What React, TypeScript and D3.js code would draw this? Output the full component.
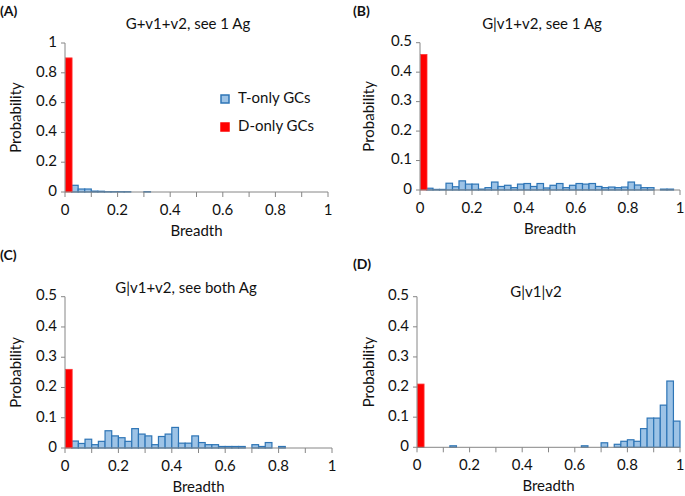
import * as d3 from "d3";

// bin width 0.025, 40 bins over breadth 0..1; first bin holds the D-only bar
const binWidth = 0.025;

const panelLabels = ["(A)", "(B)", "(C)", "(D)"];
const panelTitles = [
  "G+v1+v2, see 1 Ag",
  "G|v1+v2, see 1 Ag",
  "G|v1+v2, see both Ag",
  "G|v1|v2",
];

const dOnly = [0.9, 0.46, 0.26, 0.21];

const tOnlyA = [
  0, 0.045, 0.02, 0.02, 0.006, 0.005, 0.002, 0.002, 0.002, 0.002,
  0, 0, 0.002, 0, 0, 0, 0, 0, 0, 0,
  0, 0, 0, 0, 0, 0, 0, 0, 0, 0,
  0, 0, 0, 0, 0, 0, 0, 0, 0, 0,
];
const tOnlyB = [
  0, 0.006, 0.002, 0.002, 0.023, 0.011, 0.031, 0.02, 0.02, 0.003,
  0.008, 0.027, 0.012, 0.016, 0.008, 0.02, 0.022, 0.012, 0.022, 0.007,
  0.016, 0.022, 0.008, 0.016, 0.022, 0.02, 0.022, 0.012, 0.008, 0.01,
  0.008, 0.01, 0.027, 0.017, 0.008, 0.008, 0, 0.003, 0.003, 0,
];
const tOnlyC = [
  0, 0.023, 0.015, 0.029, 0.011, 0.022, 0.057, 0.04, 0.034, 0.022,
  0.064, 0.046, 0.04, 0.011, 0.038, 0.046, 0.068, 0.016, 0.016, 0.04,
  0.018, 0.011, 0.011, 0.005, 0.005, 0.005, 0.005, 0, 0.011, 0.005,
  0.018, 0, 0.005, 0, 0, 0, 0, 0, 0, 0,
];
const tOnlyD = [
  0, 0, 0, 0, 0, 0.005, 0, 0, 0, 0,
  0, 0, 0, 0, 0, 0, 0, 0, 0, 0,
  0, 0, 0, 0, 0, 0.005, 0, 0, 0.015, 0,
  0.01, 0.02, 0.025, 0.02, 0.062, 0.097, 0.097, 0.14, 0.22, 0.087,
];
const tOnly = [tOnlyA, tOnlyB, tOnlyC, tOnlyD];

const yMaxes = [1, 0.5, 0.5, 0.5];
const yTickSteps = [0.2, 0.1, 0.1, 0.1];
const xTickLabels = ["0", "0.2", "0.4", "0.6", "0.8", "1"];

const legendLabels = ["T-only GCs", "D-only GCs"];

// plot boxes per panel: [left, right, bottom, top]
const boxes = [
  [65, 328, 192, 43],
  [420, 680, 190, 42.7],
  [65, 332, 448, 296.7],
  [417, 680, 447.3, 296.7],
];
const headerPos = [
  [0, 12, 188, 25],
  [353, 12, 542, 25],
  [0, 256, 186, 289],
  [353, 265, 536, 293],
];

const blueFill = "#9DC3E6";
const blueStroke = "#2E75B6";
const red = "#FF0000";
const axisColor = "#868686";
const font = "Lato, 'Open Sans', sans-serif";
const fs = 15;

function Panel({ idx }: { idx: number }) {
  const [l, r, b, t] = boxes[idx];
  const x = d3.scaleLinear().domain([0, 1]).range([l, r]);
  const y = d3.scaleLinear().domain([0, yMaxes[idx]]).range([b, t]);
  const yTicks = d3.range(0, yMaxes[idx] + 1e-9, yTickSteps[idx]);
  const xTicks = d3.range(0, 1 + 1e-9, 0.1);
  const [lx, ly, tx, ty] = headerPos[idx];
  const blues = tOnly[idx];

  return (
    <g fontFamily={font} fill="#111">
      <text x={lx} y={ly} fontSize={14} fontWeight="bold" dominantBaseline="middle">
        {panelLabels[idx]}
      </text>
      <text x={tx} y={ty} fontSize={fs} textAnchor="middle" dominantBaseline="middle">
        {panelTitles[idx]}
      </text>

      {/* bars */}
      {blues.map((v, i) =>
        v > 0 ? (
          <rect
            key={i}
            x={x(i * binWidth)}
            y={y(v)}
            width={x((i + 1) * binWidth) - x(i * binWidth)}
            height={b - y(v)}
            fill={blueFill}
            stroke={blueStroke}
            strokeWidth={1.2}
          />
        ) : null
      )}
      <rect
        x={x(0) + 0.5}
        y={y(dOnly[idx])}
        width={x(binWidth) - x(0)}
        height={b - y(dOnly[idx])}
        fill={red}
        stroke="#F33"
        strokeWidth={0.8}
      />

      {/* axes */}
      <line x1={l} x2={l} y1={b} y2={t} stroke={axisColor} strokeWidth={1} />
      <line x1={l} x2={r} y1={b} y2={b} stroke={axisColor} strokeWidth={1} />
      {yTicks.map((v) => (
        <g key={"y" + v}>
          <line x1={l - 4} x2={l} y1={y(v)} y2={y(v)} stroke={axisColor} />
          <text x={l - 8} y={y(v)} fontSize={fs} textAnchor="end" dominantBaseline="middle">
            {d3.format("~g")(+v.toFixed(2))}
          </text>
        </g>
      ))}
      {xTicks.map((v, i) => (
        <line key={"x" + i} x1={x(v)} x2={x(v)} y1={b} y2={b + 5} stroke={axisColor} />
      ))}
      {xTickLabels.map((s) => (
        <text key={s} x={x(+s)} y={b + 19} fontSize={fs} textAnchor="middle" dominantBaseline="middle">
          {s}
        </text>
      ))}
      <text
        transform={`translate(${lx + 17},${(b + t) / 2}) rotate(-90)`}
        fontSize={fs}
        textAnchor="middle"
        dominantBaseline="middle"
      >
        Probability
      </text>
      <text x={(l + r) / 2} y={b + 40} fontSize={fs} textAnchor="middle" dominantBaseline="middle">
        Breadth
      </text>

      {idx === 0 && (
        <g>
          {legendLabels.map((s, i) => (
            <g key={s}>
              <rect
                x={221}
                y={95 + i * 28}
                width={8}
                height={8}
                fill={i === 0 ? blueFill : red}
                stroke={i === 0 ? blueStroke : red}
                strokeWidth={1.5}
              />
              <text x={238} y={99 + i * 28} fontSize={fs} dominantBaseline="middle">
                {s}
              </text>
            </g>
          ))}
        </g>
      )}
    </g>
  );
}

export default function App() {
  return (
    <svg width={685} height={496} style={{ position: "absolute", left: 0, top: 0, background: "#fff" }}>
      {[0, 1, 2, 3].map((i) => (
        <Panel key={i} idx={i} />
      ))}
    </svg>
  );
}
